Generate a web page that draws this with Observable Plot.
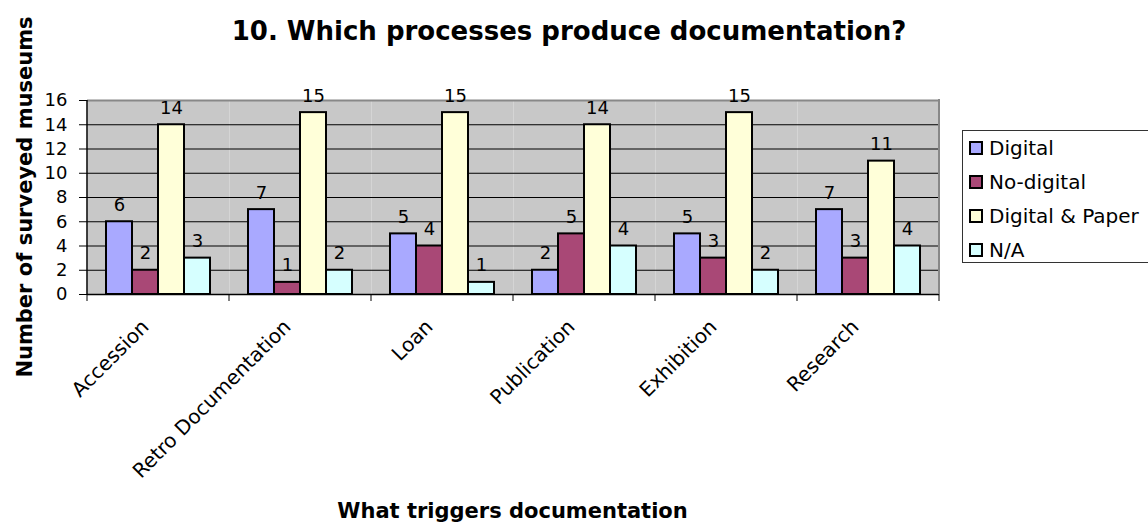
<!DOCTYPE html>
<html>
<head>
<meta charset="utf-8">
<script src="https://cdn.jsdelivr.net/npm/d3@7"></script>
<script src="https://cdn.jsdelivr.net/npm/@observablehq/plot@0.6"></script>
<style>
  html, body { margin: 0; padding: 0; background: #fff; }
  #wrap { position: relative; width: 1148px; height: 525px; overflow: hidden; font-family: "DejaVu Sans", Verdana, sans-serif; }
  #chart { position: absolute; left: 0; top: 0; }
  .title { position: absolute; left: 0; width: 1138px; top: 18px; line-height: 26px; text-align: center; font-weight: bold; font-size: 26px; white-space: nowrap; }
  .ytitle { position: absolute; left: 25px; top: 197px; line-height: 21px; transform: translate(-50%, -50%) rotate(-90deg); white-space: nowrap; font-weight: bold; font-size: 21px; }
  .xtitle { position: absolute; left: 0; width: 1025px; top: 501px; line-height: 21px; text-align: center; font-weight: bold; font-size: 21px; white-space: nowrap; }
  .legend { position: absolute; left: 962px; top: 130px; width: 200px; height: 133px; border: 1px solid #333; box-sizing: border-box; background: #fff; }
  .legend .item { position: absolute; left: 6px; height: 24px; line-height: 24px; display: flex; align-items: center; font-size: 20px; white-space: nowrap; }
  .legend .sw { width: 10px; height: 10px; border: 2px solid #000; margin-right: 6px; flex: none; }
</style>
</head>
<body>
<div id="wrap">
  <div class="title">10. Which processes produce documentation?</div>
  <div class="ytitle">Number of surveyed museums</div>
  <div class="xtitle">What triggers documentation</div>
  <div id="chart"></div>
  <div class="legend" id="legend"></div>
</div>
<script>
const categories = ["Accession", "Retro Documentation", "Loan", "Publication", "Exhibition", "Research"];
const series = ["Digital", "No-digital", "Digital & Paper", "N/A"];
const digital      = [6, 7, 5, 2, 5, 7];
const noDigital    = [2, 1, 4, 5, 3, 3];
const digitalPaper = [14, 15, 15, 14, 15, 11];
const na           = [3, 2, 1, 4, 2, 4];
const yTicks = [0, 2, 4, 6, 8, 10, 12, 14, 16];
const colors = ["#a9a9ff", "#a94876", "#ffffd9", "#d6ffff"];

const seriesValues = [digital, noDigital, digitalPaper, na];
const data = [];
categories.forEach((c, i) => {
  series.forEach((s, j) => {
    data.push({category: c, series: s, value: seriesValues[j][i]});
  });
});

const W = 945, H = 525;
const plot = Plot.plot({
  width: W,
  height: H,
  marginLeft: 85,
  marginRight: 5,
  marginTop: 100,
  marginBottom: 231,
  style: {fontFamily: "DejaVu Sans, Verdana, sans-serif", background: "transparent", overflow: "visible"},
  fx: {domain: categories, padding: 0, label: null},
  x: {domain: series, paddingInner: 0, paddingOuter: 0.72, axis: null},
  y: {domain: [0, 16], label: null},
  color: {domain: series, range: colors},
  marks: [
    Plot.frame({fill: "#c8c8c8", stroke: null}),
    Plot.ruleY(yTicks.filter(d => d > 0 && d < 16), {stroke: "#000", strokeWidth: 1}),
    Plot.ruleY([16], {stroke: "#888", strokeWidth: 2}),
    Plot.barY(data, {fx: "category", x: "series", y: "value", fill: "series", stroke: "#000", strokeWidth: 2}),
    Plot.text(data, {fx: "category", x: "series", y: "value", text: d => String(d.value), dy: -11, lineAnchor: "bottom", fontSize: 18, fill: "#000"}),
    Plot.axisY({ticks: yTicks, tickSize: 8, tickPadding: 12, fontSize: 18, label: null}),
    Plot.axisFx({anchor: "bottom", tickSize: 0, tickRotate: -45, tickPadding: 29, dx: -13, fontSize: 20, label: null}),
    Plot.ruleY([0], {stroke: "#000", strokeWidth: 1.5})
  ]
});
document.getElementById("chart").appendChild(plot);

// axis lines and category boundary ticks, positioned from the plot's own scales
const fx = plot.scale("fx");
const ys = plot.scale("y");
const svg = d3.select(plot);
const y0 = ys.apply(0), y16 = ys.apply(16);
const left = fx.apply(categories[0]);
const right = fx.apply(categories[categories.length - 1]) + fx.bandwidth;
const g = svg.append("g");
g.append("line").attr("x1", right).attr("x2", right).attr("y1", y16 - 1).attr("y2", y0).attr("stroke", "#888").attr("stroke-width", 2);
g.append("line").attr("x1", left).attr("x2", left).attr("y1", y16).attr("y2", y0).attr("stroke", "#000").attr("stroke-width", 1.5);
categories.concat([null]).forEach((c) => {
  const x = c === null ? right : fx.apply(c);
  g.append("line").attr("x1", x).attr("x2", x).attr("y1", y0).attr("y2", y0 + 7).attr("stroke", "#000").attr("stroke-width", 1);
});

// legend
const leg = document.getElementById("legend");
series.forEach((s, i) => {
  const it = document.createElement("div");
  it.className = "item";
  it.style.top = (5 + i * 34) + "px";
  const sw = document.createElement("span");
  sw.className = "sw";
  sw.style.background = colors[i];
  it.appendChild(sw);
  it.appendChild(document.createTextNode(s));
  leg.appendChild(it);
});
</script>
</body>
</html>
